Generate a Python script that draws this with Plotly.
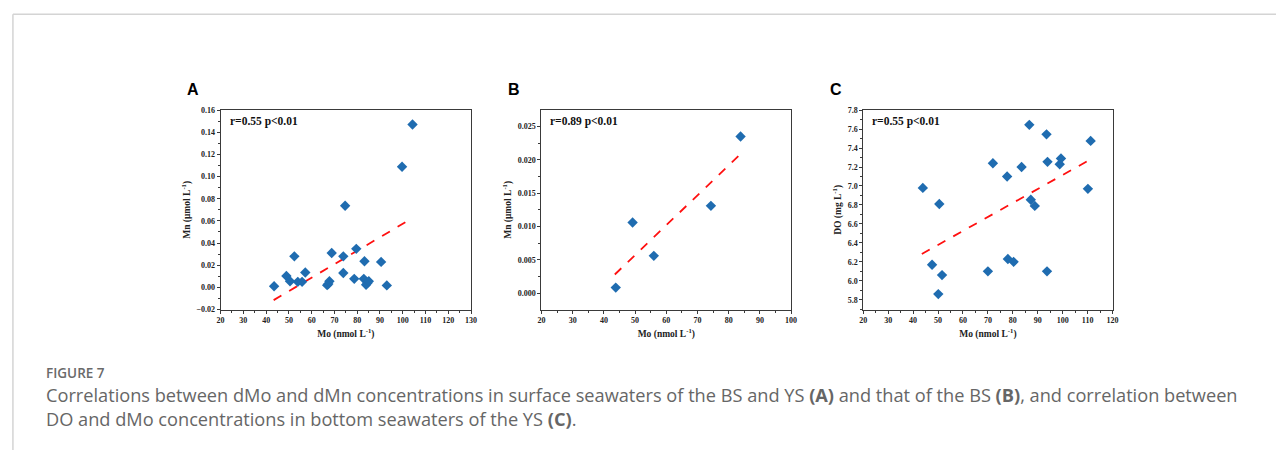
import plotly.graph_objects as go

W, H = 1282, 455

# ---------------- data ----------------
moA = [43.5, 48.9, 50.5, 52.4, 53.9, 55.8, 57.2, 66.8, 67.3, 67.8, 68.8, 73.9, 73.9, 74.7,
       78.7, 79.6, 83.2, 82.9, 83.9, 84.5, 85.1, 90.5, 93.0, 99.7, 104.3]
mnA = [0.001, 0.0103, 0.0055, 0.028, 0.005, 0.005, 0.0135, 0.002, 0.003, 0.0055, 0.031, 0.028, 0.013,
       0.0737, 0.0077, 0.0348, 0.0236, 0.0077, 0.0024, 0.004, 0.0055, 0.023, 0.0018, 0.1089, 0.147]
fitA_x = [43.3, 103.3]
fitA_y = [-0.0115, 0.0614]

moB = [43.8, 49.2, 56.0, 74.3, 83.8]
mnB = [0.00083, 0.0106, 0.0056, 0.0131, 0.0235]
fitB_x = [43.5, 83.2]
fitB_y = [0.0028, 0.0206]

moC = [43.9, 47.6, 50.1, 50.5, 51.6, 70.0, 72.0, 77.7, 78.0, 80.3, 83.5, 86.6, 87.2, 88.8,
       93.5, 93.9, 93.7, 98.8, 99.3, 110.1, 111.2]
doC = [6.98, 6.17, 5.86, 6.81, 6.06, 6.10, 7.24, 7.10, 6.23, 6.20, 7.20, 7.645, 6.855, 6.79,
       7.545, 7.255, 6.10, 7.23, 7.29, 6.97, 7.476]
fitC_x = [43.5, 111.5]
fitC_y = [6.283, 7.286]

panel_labels = ["A", "B", "C"]
stats_text = ["r=0.55 p<0.01", "r=0.89 p<0.01", "r=0.55 p<0.01"]
x_title = "Mo (nmol L<sup>-1</sup>)"
y_titles = ["Mn (μmol L<sup>-1</sup>)", "Mn (μmol L<sup>-1</sup>)", "DO (mg L<sup>-1</sup>)"]
caption_head = "FIGURE 7"
caption_lines = [
    "Correlations between dMo and dMn concentrations in surface seawaters of the BS and YS <b>(A)</b> and that of the BS <b>(B)</b>, and correlation between",
    "DO and dMo concentrations in bottom seawaters of the YS <b>(C)</b>.",
]

# ---------------- layout geometry (pixels) ----------------
px_boxes = [(218.3, 470.7), (541.7, 793.3), (866.0, 1117.3)]
py_top, py_bot = 108.3, 311.7
x_ranges = [[20, 130], [20, 100], [20, 120]]
y_ranges = [[-0.02, 0.16], [-0.00246, 0.02746], [5.697, 7.8]]
y_dticks = [0.02, 0.005, 0.2]
y_fmts = [".2f", ".3f", ".1f"]
y_tick0 = [-0.02, 0.0, 5.8]

def fx(p):
    return p / W

def fy(p):
    return 1 - p / H

MARK = "#1f6cb0"
AX = "#3a3a3a"
SERIF = "Liberation Serif"

fig = go.Figure()
datasets = [(moA, mnA, fitA_x, fitA_y), (moB, mnB, fitB_x, fitB_y), (moC, doC, fitC_x, fitC_y)]

for i, (xs, ys, fxs, fys) in enumerate(datasets):
    sfx = "" if i == 0 else str(i + 1)
    fig.add_trace(go.Scatter(x=fxs, y=fys, mode="lines",
                             line=dict(color="#ff1010", width=1.8, dash="dash"),
                             xaxis="x" + sfx, yaxis="y" + sfx, showlegend=False, hoverinfo="skip"))
    fig.add_trace(go.Scatter(x=xs, y=ys, mode="markers",
                             marker=dict(symbol="diamond", size=8, color=MARK),
                             xaxis="x" + sfx, yaxis="y" + sfx, showlegend=False))

    common = dict(showgrid=False, zeroline=False, showline=True, linecolor=AX, linewidth=1,
                  mirror=True, ticks="outside", ticklen=3, tickwidth=1, tickcolor=AX,
                  tickfont=dict(family=SERIF, size=8, color="#222", weight="bold"))
    xa = dict(common, domain=[fx(px_boxes[i][0]), fx(px_boxes[i][1])], range=x_ranges[i],
              dtick=10, tick0=20, anchor="y" + sfx,
              minor=dict(ticks="outside", ticklen=2, tickcolor=AX, dtick=5, tick0=20),
              title=dict(text="<b>" + x_title + "</b>", font=dict(family=SERIF, size=9.5, color="#222"),
                         standoff=6))
    ya = dict(common, domain=[fy(py_bot), fy(py_top)], range=y_ranges[i],
              dtick=y_dticks[i], tick0=y_tick0[i], tickformat=y_fmts[i], anchor="x" + sfx,
              minor=dict(ticks="outside", ticklen=2, tickcolor=AX, dtick=y_dticks[i] / 2, tick0=y_tick0[i]),
              title=dict(text="<b>" + y_titles[i] + "</b>", font=dict(family=SERIF, size=9.5, color="#222"),
                         standoff=4))
    fig.update_layout(**{"xaxis" + sfx: xa, "yaxis" + sfx: ya})

    # stats text
    fig.add_annotation(x=fx(px_boxes[i][0] + 7), y=fy(120), xref="paper", yref="paper",
                       text="<b>" + stats_text[i] + "</b>", showarrow=False, xanchor="left", yanchor="middle",
                       font=dict(family=SERIF, size=11.5, color="#111"))
    # panel letter
    fig.add_annotation(x=fx(px_boxes[i][0] - 36), y=fy(87), xref="paper", yref="paper",
                       text="<b>" + panel_labels[i] + "</b>", showarrow=False, xanchor="left", yanchor="middle",
                       font=dict(family="Liberation Sans", size=16, color="#000"))

# caption
fig.add_annotation(x=fx(40), y=fy(376), xref="paper", yref="paper", text=caption_head,
                   showarrow=False, xanchor="left", yanchor="middle",
                   font=dict(family="Open Sans", size=13.5, color="#6a6a6a", weight=600))
for k, line in enumerate(caption_lines):
    fig.add_annotation(x=fx(40), y=fy(399 + 24 * k), xref="paper", yref="paper", text=line,
                       showarrow=False, xanchor="left", yanchor="middle",
                       font=dict(family="Open Sans", size=18.2, color="#666666"))

# card border
fig.add_shape(type="line", xref="paper", yref="paper", x0=fx(9), x1=1, y0=fy(10.5), y1=fy(10.5),
              line=dict(color="#d4d4d4", width=1.5))
fig.add_shape(type="line", xref="paper", yref="paper", x0=fx(9), x1=fx(9), y0=fy(10.5), y1=0,
              line=dict(color="#d4d4d4", width=1.5))

fig.update_layout(width=W, height=H, margin=dict(l=0, r=0, t=0, b=0),
                  paper_bgcolor="white", plot_bgcolor="white")

fig.write_html("out.html")
